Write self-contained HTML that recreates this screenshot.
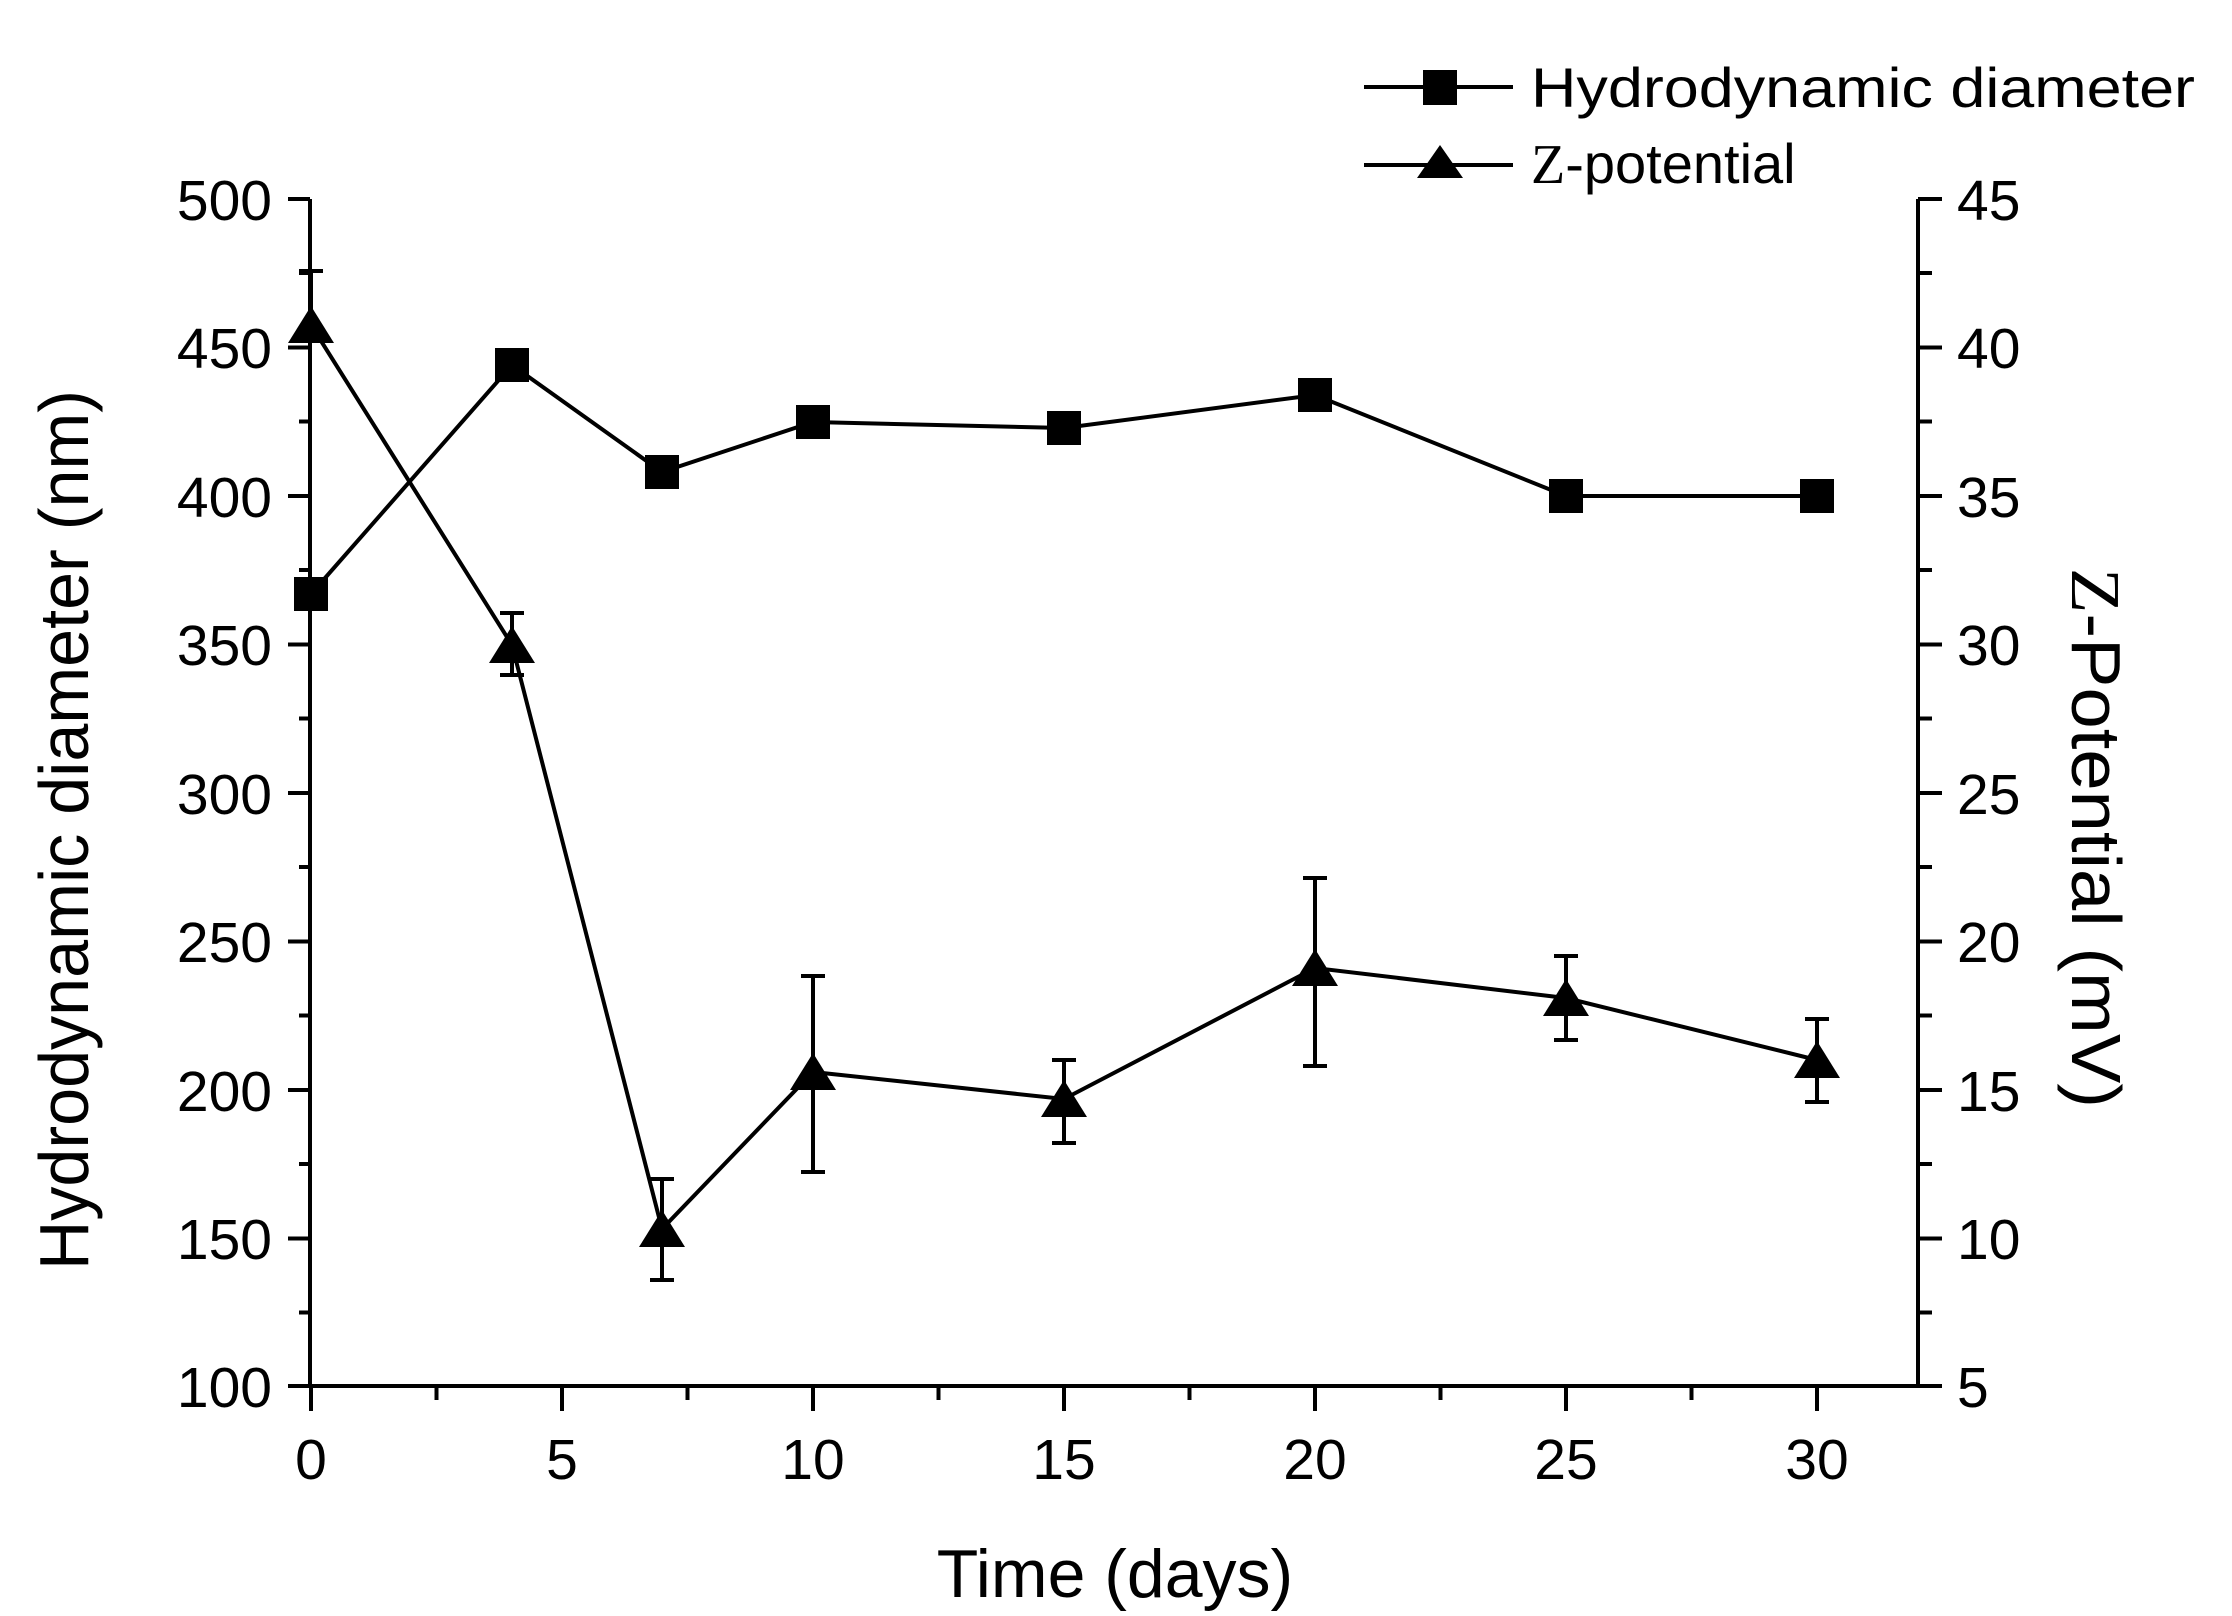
<!DOCTYPE html>
<html><head><meta charset="utf-8"><style>
html,body{margin:0;padding:0;background:#fff;}
svg{display:block;}
text{font-family:"Liberation Sans",Arial,sans-serif;fill:#000;}
</style></head><body>
<svg width="2232" height="1616" viewBox="0 0 2232 1616" xmlns="http://www.w3.org/2000/svg">
<g stroke="#000" stroke-width="4" fill="none">
<line x1="310" y1="199" x2="310" y2="1388"/>
<line x1="1918" y1="199" x2="1918" y2="1388"/>
<line x1="308" y1="1386" x2="1938" y2="1386"/>
<path d="M288 199H310M288 347.5H310M288 496H310M288 644.5H310M288 793H310M288 941.5H310M288 1090H310M288 1238.5H310M288 1386H310"/>
<path d="M299 273H310M299 421.5H310M299 570H310M299 718.5H310M299 867H310M299 1015.5H310M299 1164H310M299 1312.5H310"/>
<path d="M1918 199H1942M1918 347.5H1942M1918 496H1942M1918 644.5H1942M1918 793H1942M1918 941.5H1942M1918 1090H1942M1918 1238.5H1942M1918 1386H1942"/>
<path d="M1918 273H1932M1918 421.5H1932M1918 570H1932M1918 718.5H1932M1918 867H1932M1918 1015.5H1932M1918 1164H1932M1918 1312.5H1932"/>
<path d="M311 1386V1411M562 1386V1411M813 1386V1411M1064 1386V1411M1315 1386V1411M1566 1386V1411M1817 1386V1411"/>
<path d="M436.5 1386V1400M687.5 1386V1400M938.5 1386V1400M1189.5 1386V1400M1440.5 1386V1400M1691.5 1386V1400"/>
</g>
<g font-size="57" text-anchor="end">
<text x="272" y="220">500</text><text x="272" y="368">450</text><text x="272" y="517">400</text><text x="272" y="665">350</text><text x="272" y="814">300</text><text x="272" y="962">250</text><text x="272" y="1111">200</text><text x="272" y="1259">150</text><text x="272" y="1407">100</text>
</g>
<g font-size="57">
<text x="1957" y="220">45</text><text x="1957" y="368">40</text><text x="1957" y="517">35</text><text x="1957" y="665">30</text><text x="1957" y="814">25</text><text x="1957" y="962">20</text><text x="1957" y="1111">15</text><text x="1957" y="1259">10</text><text x="1957" y="1407">5</text>
</g>
<g font-size="57" text-anchor="middle">
<text x="311" y="1479">0</text><text x="562" y="1479">5</text><text x="813" y="1479">10</text><text x="1064" y="1479">15</text><text x="1315" y="1479">20</text><text x="1566" y="1479">25</text><text x="1817" y="1479">30</text>
</g>
<text x="1115" y="1597" font-size="68" text-anchor="middle">Time (days)</text>
<text transform="translate(88,830) rotate(-90)" font-size="70" text-anchor="middle" textLength="880" lengthAdjust="spacingAndGlyphs">Hydrodynamic diameter (nm)</text>
<text transform="translate(2072,838) rotate(90)" font-size="70" text-anchor="middle" textLength="540" lengthAdjust="spacingAndGlyphs"><tspan font-family="Liberation Serif, serif">Z</tspan>-Potential (mV)</text>
<g stroke="#000" stroke-width="4"><line x1="1364" y1="87" x2="1513" y2="87"/><line x1="1364" y1="165" x2="1513" y2="165"/></g>
<rect x="1423" y="70" width="34" height="35" fill="#000"/>
<polygon points="1440,145 1463,178 1417,178" fill="#000"/>
<text x="1531" y="107" font-size="56" textLength="664" lengthAdjust="spacingAndGlyphs">Hydrodynamic diameter</text>
<text x="1531" y="183" font-size="56"><tspan font-family="Liberation Serif, serif">Z</tspan>-potential</text>
<polyline fill="none" stroke="#000" stroke-width="4" points="311,594 512,365 662,472 813,422 1064,428 1315,395 1566,496 1817,496"/>
<g fill="#000">
<rect x="294" y="577" width="34" height="34"/><rect x="495" y="348" width="34" height="34"/><rect x="645" y="455" width="34" height="34"/><rect x="796" y="405" width="34" height="34"/><rect x="1047" y="411" width="34" height="34"/><rect x="1298" y="378" width="34" height="34"/><rect x="1549" y="479" width="34" height="34"/><rect x="1800" y="479" width="34" height="34"/>
</g>
<polyline fill="none" stroke="#000" stroke-width="4" points="311,325 512,645 662,1229 813,1072 1064,1099 1315,968 1566,998 1817,1060"/>
<g stroke="#000" stroke-width="4">
<path d="M311 325V271M299 271H323"/>
<path d="M512 645V613M500 613H524M512 645V675M500 675H524"/>
<path d="M662 1229V1179M650 1179H674M662 1229V1280M650 1280H674"/>
<path d="M813 1072V976M801 976H825M813 1072V1172M801 1172H825"/>
<path d="M1064 1099V1060M1052 1060H1076M1064 1099V1143M1052 1143H1076"/>
<path d="M1315 968V878M1303 878H1327M1315 968V1066M1303 1066H1327"/>
<path d="M1566 998V956M1554 956H1578M1566 998V1040M1554 1040H1578"/>
<path d="M1817 1060V1019M1805 1019H1829M1817 1060V1102M1805 1102H1829"/>
</g>
<g fill="#000">
<polygon points="311,306 334,343 288,343"/>
<polygon points="512,626 535,663 489,663"/>
<polygon points="662,1210 685,1247 639,1247"/>
<polygon points="813,1053 836,1090 790,1090"/>
<polygon points="1064,1080 1087,1117 1041,1117"/>
<polygon points="1315,949 1338,986 1292,986"/>
<polygon points="1566,979 1589,1016 1543,1016"/>
<polygon points="1817,1041 1840,1078 1794,1078"/>
</g>
</svg>
</body></html>
